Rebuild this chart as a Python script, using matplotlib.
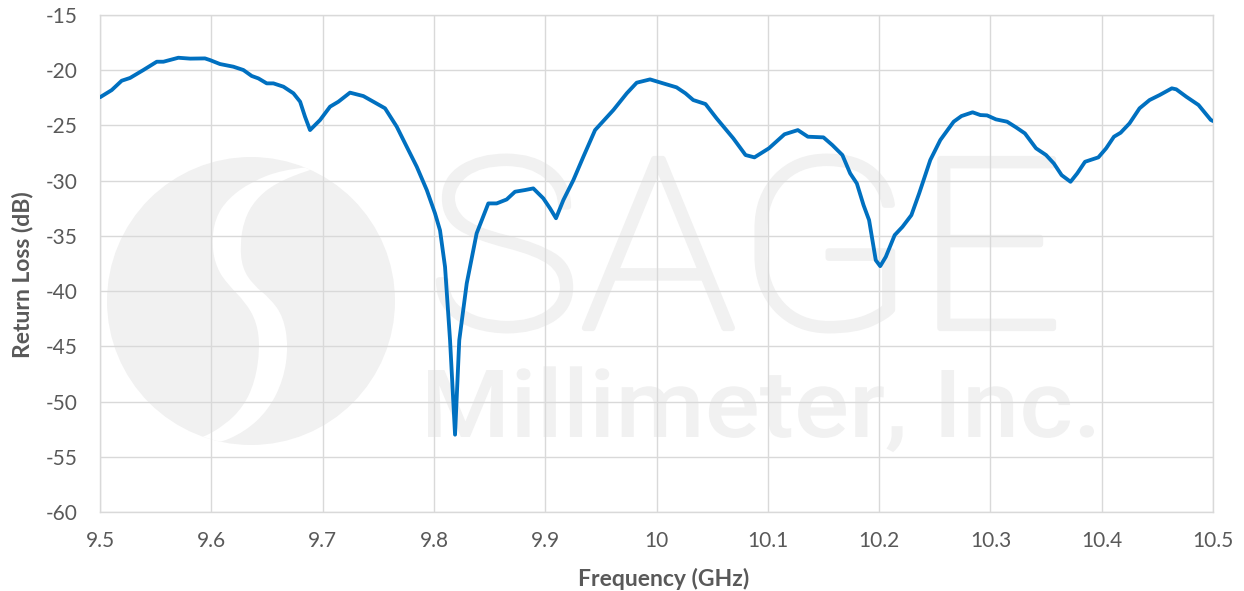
import numpy as np
import matplotlib
matplotlib.use("Agg")
import matplotlib.pyplot as plt
from matplotlib.path import Path
from matplotlib.patches import PathPatch, Circle
from matplotlib.textpath import TextPath
from matplotlib.font_manager import FontProperties
from matplotlib.transforms import Affine2D

# --- datos medidos: return loss vs frecuencia ---
freq_ghz = [
    9.500, 9.5105, 9.5195, 9.527, 9.539, 9.551, 9.557, 9.5704, 9.581, 9.5943,
    9.5988, 9.6078, 9.6198, 9.6288, 9.6363, 9.6423, 9.6498, 9.6558, 9.6648, 9.6738,
    9.6798, 9.6842, 9.6887, 9.6977, 9.7067, 9.7142, 9.7246, 9.7366, 9.7456, 9.7561,
    9.7666, 9.7756, 9.7846, 9.7936, 9.801, 9.8055, 9.810, 9.8145, 9.819, 9.8228,
    9.8295, 9.8384, 9.8489, 9.8564, 9.8654, 9.8729, 9.8818, 9.8893, 9.8983, 9.9043,
    9.9097, 9.9163, 9.9253, 9.9343, 9.9448, 9.9613, 9.9733, 9.9822, 9.9942, 10.006,
    10.018, 10.026, 10.033, 10.044, 10.054, 10.069, 10.080, 10.088, 10.101, 10.115,
    10.127, 10.136, 10.150, 10.158, 10.167, 10.174, 10.180, 10.186, 10.191, 10.197,
    10.201, 10.206, 10.214, 10.221, 10.229, 10.236, 10.246, 10.255, 10.267, 10.274,
    10.284, 10.291, 10.297, 10.305, 10.315, 10.323, 10.331, 10.341, 10.350, 10.357,
    10.364, 10.372, 10.378, 10.385, 10.397, 10.404, 10.411, 10.417, 10.425, 10.434,
    10.443, 10.452, 10.463, 10.467, 10.476, 10.487, 10.498, 10.500,
]
return_loss_db = [
    -22.45, -21.8, -20.95, -20.7, -19.98, -19.23, -19.23, -18.87, -18.95, -18.93,
    -19.08, -19.44, -19.68, -19.98, -20.52, -20.74, -21.19, -21.19, -21.49, -22.09,
    -22.85, -24.21, -25.42, -24.51, -23.3, -22.85, -22.03, -22.34, -22.85, -23.45,
    -25.11, -26.93, -28.74, -30.85, -32.96, -34.5, -37.8, -44.44, -53.0, -44.44,
    -39.3, -34.77, -32.06, -32.06, -31.7, -31.0, -30.85, -30.7, -31.6, -32.5,
    -33.4, -31.76, -29.95, -27.83, -25.42, -23.6, -22.09, -21.13, -20.83, -21.19,
    -21.55, -22.09, -22.7, -23.06, -24.36, -26.17, -27.68, -27.89, -27.07, -25.8,
    -25.42, -26.02, -26.08, -26.78, -27.68, -29.34, -30.25, -32.21, -33.57, -37.2,
    -37.74, -36.9, -34.93, -34.18, -33.12, -31.15, -28.13, -26.32, -24.66, -24.15,
    -23.81, -24.06, -24.09, -24.45, -24.66, -25.17, -25.72, -27.07, -27.68, -28.44,
    -29.5, -30.1, -29.34, -28.29, -27.89, -27.07, -26.02, -25.66, -24.81, -23.45,
    -22.7, -22.25, -21.64, -21.73, -22.4, -23.15, -24.5, -24.6,
]

x_ticks = [9.5, 9.6, 9.7, 9.8, 9.9, 10.0, 10.1, 10.2, 10.3, 10.4, 10.5]
x_tick_labels = ["9.5", "9.6", "9.7", "9.8", "9.9", "10", "10.1", "10.2", "10.3", "10.4", "10.5"]
y_ticks = [-60, -55, -50, -45, -40, -35, -30, -25, -20, -15]
y_tick_labels = ["-60", "-55", "-50", "-45", "-40", "-35", "-30", "-25", "-20", "-15"]

# --- estilo ---
W, H = 1244, 591
LINE_BLUE = "#0070C0"
GRID = "#d9d9d9"
TEXT = "#595959"
MARCA = "#f1f1f1"
plt.rcParams["font.family"] = ["Lato", "DejaVu Sans"]
plt.rcParams["axes.unicode_minus"] = False

fig = plt.figure(figsize=(W / 100, H / 100), dpi=100)
ax = fig.add_axes([100 / W, 1 - 512 / H, 1113 / W, 497 / H])

# transformación en píxeles de imaxe (y cara abaixo)
pix = Affine2D().scale(1 / W, -1 / H).translate(0, 1) + fig.transFigure

# --- marca de auga: logo circular co "S" en branco ---
logo = Circle((251, 301), 144, facecolor=MARCA, edgecolor="none", transform=pix, zorder=0.2)
ax.add_patch(logo)
s_izq = [(700, 60), (560, 75), (470, 110), (400, 160), (360, 220), (350, 300), (365, 370),
         (400, 420), (450, 470), (485, 530), (495, 610), (480, 710), (445, 785), (390, 840),
         (320, 880), (250, 900)]
s_der = [(360, 900), (450, 860), (520, 795), (565, 705), (580, 605), (565, 515), (525, 460),
         (475, 420), (442, 370), (435, 300), (447, 225), (480, 165), (540, 115), (640, 75)]
s_pts = np.array([(95 + zx / 3, 145 + zy / 3) for zx, zy in s_izq + s_der])

# contorno suavizado con curvas cuadráticas entre puntos medios
n = len(s_pts)
mids = (s_pts + np.roll(s_pts, -1, axis=0)) / 2
verts = [mids[-1]]
codes = [Path.MOVETO]
for i in range(n):
    verts += [s_pts[i], mids[i]]
    codes += [Path.CURVE3, Path.CURVE3]
verts.append(mids[-1])
codes.append(Path.CLOSEPOLY)
s_white = PathPatch(Path(verts, codes), facecolor="white", edgecolor="none", transform=pix, zorder=0.25)
ax.add_patch(s_white)
s_white.set_clip_path(logo)


def texto_en_caixa(txt, prop, x0, x1, base, cap_h, ref="H", grosor=0.0):
    tp = TextPath((0, 0), txt, prop=prop, size=100)
    ext = tp.get_extents()
    cap = TextPath((0, 0), ref, prop=prop, size=100).get_extents().height
    sx = (x1 - x0) / ext.width
    sy = cap_h / cap
    tr = Affine2D().translate(-ext.x0, 0).scale(sx, -sy).translate(x0, base)
    patch = PathPatch(tr.transform_path(tp), facecolor=MARCA,
                      edgecolor=MARCA if grosor else "none", linewidth=grosor,
                      joinstyle="round", transform=pix, zorder=0.2)
    ax.add_patch(patch)


texto_en_caixa("SAGE", FontProperties(family="Roboto", weight="light"), 439, 1053, 328, 169,
               ref="E", grosor=4.5)
texto_en_caixa("Millimeter, Inc.", FontProperties(family="Roboto", weight="medium"), 428, 1094, 437, 67, ref="M")

# --- curva ---
ax.plot(freq_ghz, return_loss_db, color=LINE_BLUE, linewidth=2.75, solid_joinstyle="round",
        solid_capstyle="round", zorder=3)

ax.set_xlim(9.5, 10.5)
ax.set_ylim(-60, -15)
ax.set_xticks(x_ticks)
ax.set_xticklabels(x_tick_labels)
ax.set_yticks(y_ticks)
ax.set_yticklabels(y_tick_labels)
ax.set_axisbelow(True)
ax.grid(True, color=GRID, linewidth=1.0)
for sp in ax.spines.values():
    sp.set_color(GRID)
    sp.set_linewidth(1.0)
ax.tick_params(axis="both", length=0, labelsize=15, labelcolor=TEXT)
ax.tick_params(axis="x", pad=14)
ax.tick_params(axis="y", pad=16)

ax.set_xlabel("Frequency (GHz)", fontsize=16.5, fontweight="bold", color=TEXT)
ax.set_ylabel("Return Loss (dB)", fontsize=16.5, fontweight="bold", color=TEXT)
ax.xaxis.set_label_coords(0.5067, -0.135)
ax.xaxis.label.set_va("center")
ax.xaxis.label.set_ha("center")
ax.yaxis.set_label_coords(-0.0696, 0.477)
ax.yaxis.label.set_va("center")

fig.savefig("out.png", dpi=100)
